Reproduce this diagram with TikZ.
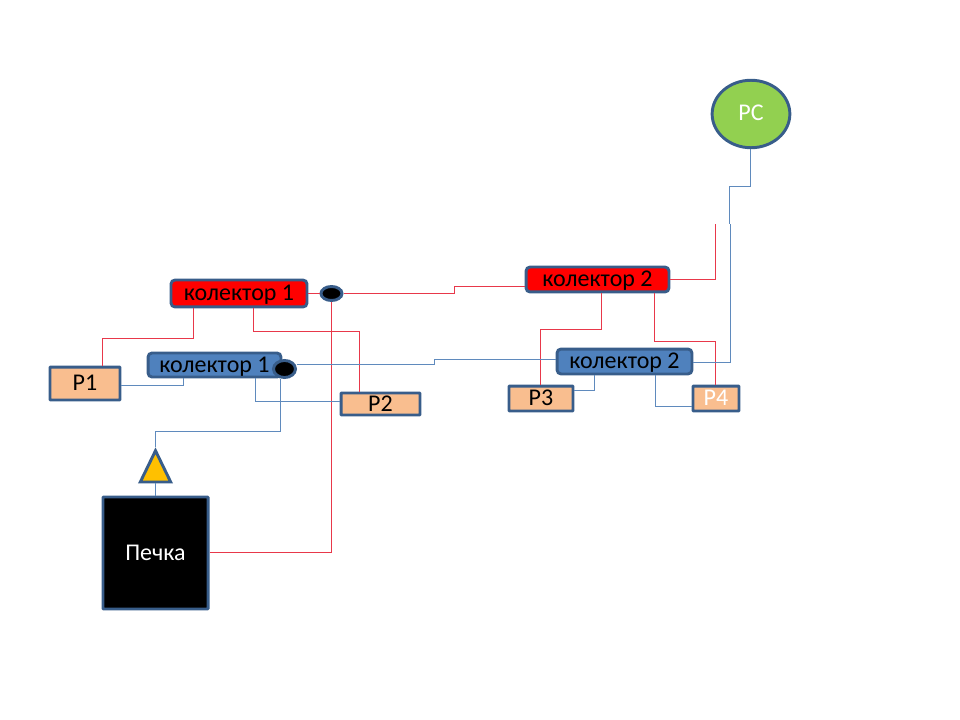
\documentclass[tikz,border=0pt]{standalone}
\usepackage{fontspec}
\setmainfont{Carlito}
\usetikzlibrary{shapes.geometric}
\definecolor{edgeblue}{HTML}{385D8A}
\definecolor{fillblue}{HTML}{4F81BD}
\definecolor{fillpeach}{HTML}{F9BE8F}
\definecolor{fillgreen}{HTML}{92D050}
\definecolor{fillamber}{HTML}{FFC000}
\definecolor{wireblue}{HTML}{5F8ABD}
\definecolor{wirered}{HTML}{E8384A}
\tikzset{
  x=0.75pt, y=-0.75pt,
  every node/.style={font=\fontsize{18}{20}\selectfont, inner sep=0pt, text height=11.5pt, text depth=1pt},
  unit/.style={draw=edgeblue, line width=2.2pt},
  redcol/.style={unit, fill=red, rounded corners=3pt},
  bluecol/.style={unit, fill=fillblue, rounded corners=3pt},
  room/.style={unit, fill=fillpeach, rounded corners=0.5pt},
  valve/.style={unit, ellipse, fill=black, text height=0pt, text depth=0pt},
  redwire/.style={wirered, line width=0.85pt},
  bluewire/.style={wireblue, line width=0.85pt},
}
\begin{document}
\begin{tikzpicture}
\useasboundingbox (0,0) rectangle (960,720);
\node[redcol, minimum width=102pt, minimum height=20.2pt] (red1) at (239,293.5) {колектор 1};
\node[redcol, minimum width=107.2pt, minimum height=18.7pt] (red2) at (597.5,279.5) {колектор 2};
\node[bluecol, minimum width=99.7pt, minimum height=18pt] (blue1) at (214.5,365) {колектор 1};
\node[bluecol, minimum width=101.2pt, minimum height=18.7pt] (blue2) at (624.5,361.5) {колектор 2};
\node[valve, minimum width=15.8pt, minimum height=10.5pt] (dot1) at (331.5,293.5) {};
\node[valve, minimum width=16.5pt, minimum height=12.8pt] (dot2) at (284.5,369) {};
\node[room, minimum width=52.5pt, minimum height=24.7pt] (P1) at (85,383.5) {P1};
\node[room, minimum width=59.2pt, minimum height=16.5pt] (P2) at (380.5,404) {P2};
\node[room, minimum width=48pt, minimum height=18.7pt] (P3) at (541,398.5) {P3};
\node[room, minimum width=34.5pt, minimum height=18.7pt, text=white] (P4) at (716,398.5) {P4};
\node[unit, ellipse, fill=fillgreen, text=white, minimum width=58.3pt, minimum height=50.6pt] (PC) at (751,114) {PC};
\node[unit, rounded corners=0.5pt, fill=black, text=white, minimum width=78.8pt, minimum height=84pt] (stove) at (155.5,553) {Печка};
\node[unit, isosceles triangle, isosceles triangle stretches, shape border rotate=90, fill=fillamber, text height=0pt, text depth=0pt, minimum width=22.8pt, minimum height=23.5pt] (pump) at (155.5,472.5) {};
\coordinate (redend) at (715.5,224);
\coordinate (joinupper) at (729.5,224);
\coordinate (joinlower) at (730.5,224);
\draw[redwire] (red1.south -| 193.5,0) |- (102.5,338.5) -- (P1.north -| 102.5,0);
\draw[redwire] (red1.south -| 253.5,0) |- (359.5,331.5) -- (P2.north -| 359.5,0);
\draw[redwire] (red1.east) -- (dot1.west);
\draw[redwire] (dot1.east) -- (454.5,293.5) -- (454.5,286.5) -- (red2.west |- 0,286.5);
\draw[redwire] (stove.east |- 0,552.5) -| (dot1.south);
\draw[redwire] (red2.south -| 601.5,0) |- (540.5,329.5) -- (P3.north -| 540.5,0);
\draw[redwire] (red2.south -| 654.5,0) |- (715.5,341.5) -- (P4.north -| 715.5,0);
\draw[redwire] (red2.east) -| (redend);
\draw[bluewire] (P1.east |- 0,385.5) -| (blue1.south -| 183.5,0);
\draw[bluewire] (blue1.south -| 255.5,0) |- (P2.west |- 0,401.5);
\draw[bluewire] (dot2.south -| 280.5,0) |- (155.5,431.5) -- (pump.apex);
\draw[bluewire] (pump.lower side) -- (stove.north);
\draw[bluewire] (dot2.east |- 0,364.5) -- (434.5,364.5) -- (434.5,359.5) -- (blue2.west |- 0,359.5);
\draw[bluewire] (blue2.east |- 0,362.5) -| (joinlower);
\draw[bluewire] (PC.south -| 750.5,0) |- (729.5,186.5) -- (joinupper);
\draw[bluewire] (P3.east |- 0,390.5) -| (blue2.south -| 594.5,0);
\draw[bluewire] (blue2.south -| 655.5,0) |- (P4.west |- 0,406.5);
\end{tikzpicture}
\end{document}
